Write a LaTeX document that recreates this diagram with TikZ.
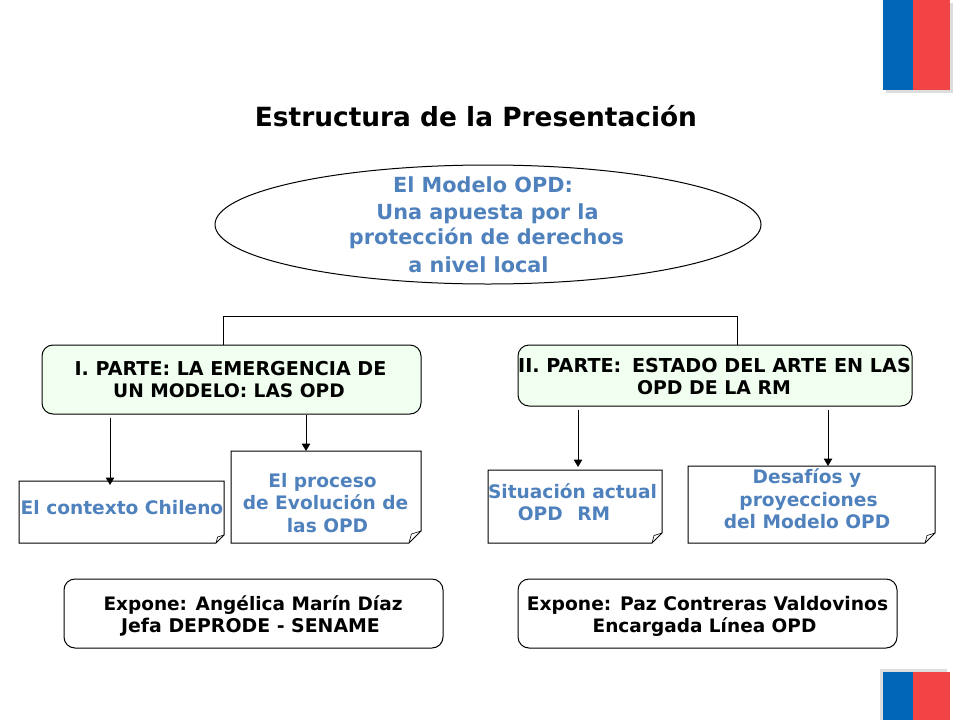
\documentclass[tikz,border=0pt]{standalone}
\usepackage{fontspec}
\setmainfont{DejaVu Sans}
\usetikzlibrary{shapes.geometric,arrows.meta}
\definecolor{tblue}{HTML}{4F81BD}
\definecolor{fgreen}{HTML}{F0FFF0}
\definecolor{fblue}{HTML}{0066B8}
\definecolor{fred}{HTML}{F24444}
\definecolor{fshadow}{HTML}{DDDDDD}
\tikzset{
  line/.style={draw=black,line width=1pt},
  arrowline/.style={line,-{Triangle[length=7.5pt,width=8.5pt]}},
  greenbox/.style={line,fill=fgreen,rounded corners=11pt,minimum width=0pt,inner sep=0pt},
  whitebox/.style={line,fill=white,rounded corners=11pt},
  anchorbox/.style={inner sep=0pt,outer sep=0pt,minimum width=#1},
  tb/.style={font=\bfseries\fontsize{18.6}{18}\selectfont,text=tblue,inner sep=0pt,anchor=base},
  te/.style={font=\bfseries\fontsize{20.8}{18}\selectfont,text=tblue,inner sep=0pt,anchor=base},
  tk/.style={font=\bfseries\fontsize{18.9}{18}\selectfont,text=black,inner sep=0pt,anchor=base},
}
\newcommand{\notebox}[6]{% name x1 y1 x2 y2 fold
  \node[anchorbox=0pt] (#1) at ({(#2+#4)/2},#3) {};
  \draw[line] (#2,#3) -- (#4,#3) -- (#4,#5-#6) -- (#4-#6,#5) -- (#2,#5) -- cycle;
  \draw[line width=0.6pt] (#4,#5-#6) -- (#4-#6*0.8,#5-#6*0.75) -- (#4-#6,#5);
}
\begin{document}
\begin{tikzpicture}[x=1pt,y=-1pt]
\useasboundingbox (0,0) rectangle (960,720);
% flags
\fill[fshadow] (886,3) rectangle (953,93);
\fill[fblue] (883,0) rectangle (913,90);
\fill[fred] (913,0) rectangle (950,90);
\fill[fshadow] (880,669) rectangle (947,720);
\fill[fblue] (883,672) rectangle (913,720);
\fill[fred] (913,672) rectangle (950,720);
% title
\node[tk,font=\bfseries\fontsize{26.4}{28}\selectfont] (title) at (476,126) {Estructura de la Presentación};
% ellipse
\node[ellipse,line,minimum width=546pt,minimum height=119pt,inner sep=0pt] (main) at (488,224.5) {};
\node[te] (m1) at (483,192) {El Modelo OPD:};
\node[te] (m2) at (487.5,219) {Una apuesta por la};
\node[te] (m3) at (486.5,244) {protección de derechos};
\node[te] (m4) at (478.5,272) {a nivel local};
% boxes
\node[greenbox,minimum width=379pt,minimum height=69pt] (p1) at (231.5,379.5) {};
\node[greenbox,minimum width=394pt,minimum height=61pt] (p2) at (715,375.5) {};
\node[tk,font=\bfseries\fontsize{19.1}{18}\selectfont] (p1a) at (230.5,375) {I. PARTE: LA EMERGENCIA DE};
\node[tk,font=\bfseries\fontsize{18.6}{18}\selectfont] (p1b) at (229,397) {UN MODELO: LAS OPD};
\node[tk,font=\bfseries\fontsize{19.2}{18}\selectfont] (p2a) at (714.5,372) {II. PARTE:\hspace{4pt} ESTADO DEL ARTE EN LAS};
\node[tk] (p2b) at (714,394) {OPD DE LA RM};
% bracket
\draw[line] (p1.north -| 223,0) -- (223,316) -- (737,316) -- (p2.north -| 737,0);
% notes
\notebox{n1}{19}{481}{224}{543}{8}
\notebox{n2}{231}{451}{421}{543}{12}
\notebox{n3}{488}{470}{662}{543}{10}
\notebox{n4}{688}{466}{935}{543}{10}
\node[tb] (n1a) at (122,514) {El contexto Chileno};
\node[tb] (n2a) at (322.5,487) {El proceso};
\node[tb] (n2b) at (325.5,509) {de Evolución de};
\node[tb] (n2c) at (327.5,532) {las OPD};
\node[tb] (n3a) at (572.5,498) {Situación actual};
\node[tb] (n3b) at (564,520) {OPD\hspace{8pt} RM};
\node[tb] (n4a) at (807,483) {Desafíos y};
\node[tb] (n4b) at (808.5,506) {proyecciones};
\node[tb] (n4c) at (807,528) {del Modelo OPD};
% arrows
\coordinate (a1) at (110,418);
\coordinate (a3) at (578,410);
\coordinate (a4) at (828,410);
\coordinate (e1) at (110,485);
\coordinate (e3) at (578,467);
\coordinate (e4) at (828,466);
\draw[arrowline] (a1) -- (e1);
\draw[arrowline] (p1.south -| 306,0) -- (306,451);
\draw[arrowline] (a3) -- (e3);
\draw[arrowline] (a4) -- (e4);
% bottom
\node[whitebox,minimum width=379pt,minimum height=69pt] (b1) at (253.5,613.5) {};
\node[whitebox,minimum width=379pt,minimum height=69pt] (b2) at (707.5,613.5) {};
\node[tk,font=\bfseries\fontsize{18.5}{18}\selectfont] (b1a) at (253,610) {Expone: Angélica Marín Díaz};
\node[tk] (b1b) at (250.5,632) {Jefa DEPRODE - SENAME};
\node[tk,font=\bfseries\fontsize{18.7}{18}\selectfont] (b2a) at (707.5,610) {Expone: Paz Contreras Valdovinos};
\node[tk,font=\bfseries\fontsize{18.5}{18}\selectfont] (b2b) at (704.5,632) {Encargada Línea OPD};
\end{tikzpicture}
\end{document}
